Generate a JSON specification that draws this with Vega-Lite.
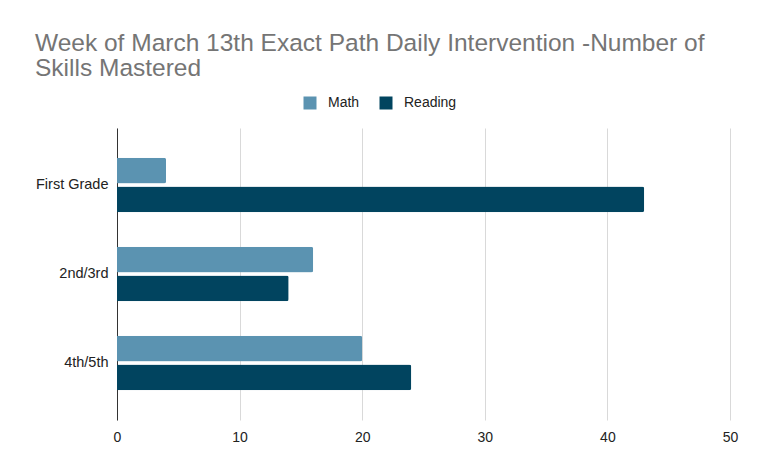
{
  "$schema": "https://vega.github.io/schema/vega-lite/v6.json",
  "width": 613,
  "height": 292,
  "autosize": "none",
  "padding": {"left": 117, "top": 128, "right": 29, "bottom": 45},
  "background": "white",
  "title": {
    "text": ["Week of March 13th Exact Path Daily Intervention -Number of", "Skills Mastered"],
    "anchor": "start",
    "frame": "group",
    "dx": -82,
    "font": "Liberation Sans",
    "fontSize": 24.5,
    "fontWeight": "normal",
    "color": "#757575",
    "lineHeight": 25,
    "offset": 15
  },
  "config": {"view": {"stroke": null}},
  "data": {
    "values": [
      {"group": "First Grade", "subject": "Math", "value": 4},
      {"group": "First Grade", "subject": "Reading", "value": 43},
      {"group": "2nd/3rd", "subject": "Math", "value": 16},
      {"group": "2nd/3rd", "subject": "Reading", "value": 14},
      {"group": "4th/5th", "subject": "Math", "value": 20},
      {"group": "4th/5th", "subject": "Reading", "value": 24}
    ]
  },
  "mark": {"type": "bar", "cornerRadiusEnd": 2},
  "encoding": {
    "y": {
      "field": "group",
      "type": "nominal",
      "sort": ["First Grade", "2nd/3rd", "4th/5th"],
      "scale": {"paddingInner": 0.39, "paddingOuter": 0.335},
      "axis": {
        "title": null,
        "labelFont": "Liberation Sans",
        "labelFontSize": 14.5,
        "labelColor": "#222222",
        "domainColor": "#333333",
        "ticks": false,
        "labelPadding": 9
      }
    },
    "yOffset": {
      "field": "subject",
      "type": "nominal",
      "sort": ["Math", "Reading"],
      "scale": {"paddingInner": 0.1}
    },
    "x": {
      "field": "value",
      "type": "quantitative",
      "scale": {"domain": [0, 50]},
      "axis": {
        "title": null,
        "values": [0, 10, 20, 30, 40, 50],
        "grid": true,
        "gridColor": "#d9d9d9",
        "domain": false,
        "ticks": false,
        "labelFlush": false,
        "labelFont": "Liberation Sans",
        "labelFontSize": 14,
        "labelColor": "#222222",
        "labelPadding": 10
      }
    },
    "color": {
      "field": "subject",
      "type": "nominal",
      "sort": ["Math", "Reading"],
      "scale": {"domain": ["Math", "Reading"], "range": ["#5b93b1", "#01445f"]},
      "legend": {
        "orient": "none",
        "legendX": 186,
        "legendY": -32,
        "direction": "horizontal",
        "title": null,
        "symbolType": "square",
        "symbolSize": 169,
        "symbolStrokeWidth": 0,
        "labelFont": "Liberation Sans",
        "labelFontSize": 14,
        "labelColor": "#222222",
        "labelOffset": 11,
        "columnPadding": 19
      }
    }
  }
}
